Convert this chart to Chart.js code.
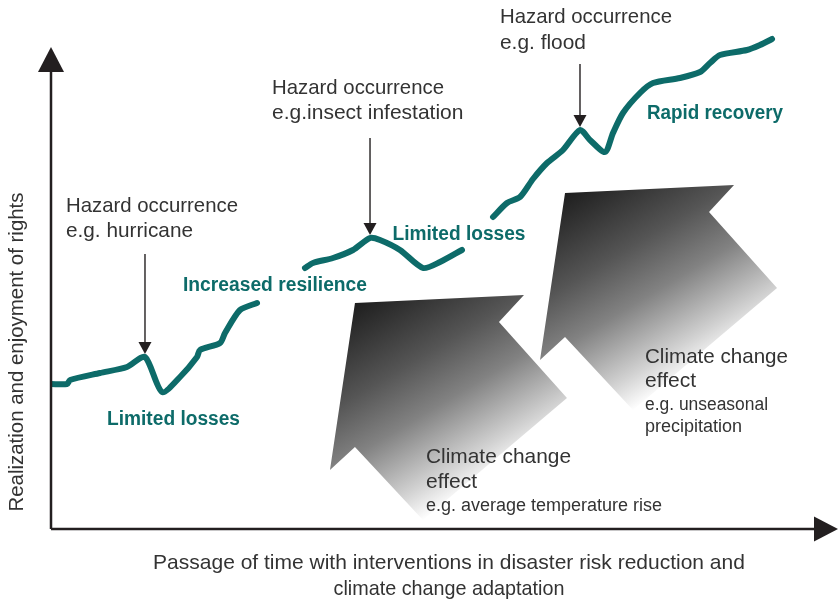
<!DOCTYPE html>
<html>
<head>
<meta charset="utf-8">
<script src="https://cdn.jsdelivr.net/npm/chart.js@4"></script>
<style>
html,body{margin:0;padding:0;background:#fff;}
#c{display:block;}
</style>
</head>
<body>
<canvas id="c" width="839" height="602"></canvas>
<script>
// Time (0-100) and level (0-100) of the "realization of rights" curve; null = gap behind a label
const timeValues = [0, 2.05, 2.44, 6.28, 9.74, 12.05, 14.23, 16.54, 18.72, 19.1, 21.67, 22.31, 24.23, 26.41,
  29, 32.56, 33.59, 36.15, 38.72, 40.9, 42.18, 44.74, 47.69, 49.87, 52.69,
  55, 56.67, 58.46, 60.13, 61.79, 63.59, 65.64, 67.82, 69.1, 71.03, 72.05, 73.33, 75.51, 77.18, 80.64, 83.21, 84.49, 85.77, 89.23, 90.9, 92.44];
const levelValues = [28.8, 28.8, 29.6, 31, 32.2, 34.2, 27.2, 30.2, 34.2, 35.6, 37, 39, 43.6, 45,
  null, 52, 53, 54, 55.6, 58, 57.6, 55.6, 52, 53.2, 55.6,
  null, 62.2, 65, 66.2, 69.8, 73, 75.6, 79.6, 77.6, 75.2, 79, 83, 87, 89, 90, 91.2, 93, 94.6, 95.6, 96.6, 97.8];

// Hazard events: index of the curve point hit, and label lines
const hazardIndex = [5, 19, 32];
const hazardTitle = ["Hazard occurrence", "Hazard occurrence", "Hazard occurrence"];
const hazardExample = ["e.g. hurricane", "e.g.insect infestation", "e.g. flood"];

// Outcome labels on the curve
const outcomeLabels = ["Limited losses", "Increased resilience", "Limited losses", "Rapid recovery"];

// Climate change effect labels
const climateTitle = ["Climate change", "Climate change"];
const climateExample = [["e.g. average temperature rise"], ["e.g. unseasonal", "precipitation"]];

const xAxisTitle = ["Passage of time with interventions in disaster risk reduction and", "climate change adaptation"];
const yAxisTitle = "Realization and enjoyment of rights";

// ---- layout / style (not data) ----
const TEAL = '#0d6b69';
const INK = '#231f20';
const TXT = '#333333';
const FONT = '"Liberation Sans", Arial, sans-serif';

const hazardLayout = [
  {len: 100, dx: -79, y1: 206, y2: 231, w1: 172, w2: 127},
  {len: 97, dx: -98, y1: 88, y2: 113, w1: 172, w2: 193},
  {len: 63, dx: -80, y1: 17, y2: 43, w1: 172, w2: 86}
];
const outcomeLayout = [
  {x: 173.5, y: 419, w: 133}, {x: 275, y: 285, w: 184}, {x: 459, y: 234, w: 133}, {x: 715, y: 113, w: 136}
];
const climateLayout = [
  {x: 426, y: [457, 482, 506], w: 145, small: [237]},
  {x: 645, y: [357, 381, 405, 427], w: 143, small: [123, 101]}
];
// block arrow anchors (data units) + shape offsets (px)
const blockArrowAnchors = [{x: 38.97, y: 45}, {x: 65.9, y: 67}];
const blockShape = [[0,0],[169,-8],[144,19],[212,95],[68,217],[0,144],[-25,167]];

function txt(ctx, s, x, y, opt) {
  ctx.save();
  ctx.font = opt.font;
  ctx.fillStyle = opt.color;
  ctx.textAlign = opt.align || 'left';
  ctx.textBaseline = 'middle';
  const m = ctx.measureText(s).width;
  if (opt.w && m > opt.w) ctx.fillText(s, x, y, opt.w); else ctx.fillText(s, x, y);
  ctx.restore();
}

const decor = {
  id: 'decor',
  beforeDatasetsDraw(chart) {
    const {ctx, scales: {x, y}} = chart;
    // gradient block arrows
    blockArrowAnchors.forEach(a => {
      const px = x.getPixelForValue(a.x), py = y.getPixelForValue(a.y);
      const g = ctx.createLinearGradient(px, py, px + 114, py + 190);
      g.addColorStop(0, '#1e1e1e');
      g.addColorStop(0.36, '#555555');
      g.addColorStop(0.59, '#828282');
      g.addColorStop(0.86, '#d2d2d2');
      g.addColorStop(1, '#ffffff');
      ctx.save();
      ctx.beginPath();
      blockShape.forEach((p, i) => i ? ctx.lineTo(px + p[0], py + p[1]) : ctx.moveTo(px + p[0], py + p[1]));
      ctx.closePath();
      ctx.fillStyle = g;
      ctx.fill();
      ctx.restore();
    });
  },
  afterDatasetsDraw(chart) {
    const {ctx, chartArea: ca, scales: {x, y}} = chart;
    // axes
    ctx.save();
    ctx.strokeStyle = INK; ctx.fillStyle = INK; ctx.lineWidth = 2.5;
    const ox = ca.left, oy = ca.bottom + 1;
    ctx.beginPath(); ctx.moveTo(ox, oy); ctx.lineTo(ox, 68); ctx.stroke();
    ctx.beginPath(); ctx.moveTo(ox, oy); ctx.lineTo(818, oy); ctx.stroke();
    ctx.beginPath(); ctx.moveTo(ox, 47); ctx.lineTo(ox - 13, 72); ctx.lineTo(ox + 13, 72); ctx.closePath(); ctx.fill();
    ctx.beginPath(); ctx.moveTo(838, oy); ctx.lineTo(814, oy - 12.5); ctx.lineTo(814, oy + 12.5); ctx.closePath(); ctx.fill();
    ctx.restore();

    // hazard arrows + labels
    hazardIndex.forEach((idx, i) => {
      const L = hazardLayout[i];
      const px = x.getPixelForValue(timeValues[idx]);
      const tip = y.getPixelForValue(levelValues[idx]) - 3;
      ctx.save();
      ctx.strokeStyle = INK; ctx.fillStyle = INK; ctx.lineWidth = 1.4;
      ctx.beginPath(); ctx.moveTo(px, tip - L.len); ctx.lineTo(px, tip - 10); ctx.stroke();
      ctx.beginPath(); ctx.moveTo(px, tip); ctx.lineTo(px - 6.5, tip - 12); ctx.lineTo(px + 6.5, tip - 12); ctx.closePath(); ctx.fill();
      ctx.restore();
      txt(ctx, hazardTitle[i], px + L.dx, L.y1, {font: '21px ' + FONT, color: TXT, w: L.w1});
      txt(ctx, hazardExample[i], px + L.dx, L.y2, {font: '21px ' + FONT, color: TXT, w: L.w2});
    });

    // outcome labels
    outcomeLabels.forEach((s, i) => {
      const L = outcomeLayout[i];
      txt(ctx, s, L.x, L.y, {font: 'bold 20px ' + FONT, color: TEAL, align: 'center', w: L.w});
    });

    // climate labels
    climateTitle.forEach((s, i) => {
      const L = climateLayout[i];
      txt(ctx, s, L.x, L.y[0], {font: '21px ' + FONT, color: TXT, w: L.w});
      txt(ctx, 'effect', L.x, L.y[1], {font: '21px ' + FONT, color: TXT});
      climateExample[i].forEach((e, k) => {
        txt(ctx, e, L.x, L.y[2 + k], {font: '18px ' + FONT, color: TXT, w: L.small[k]});
      });
    });

    // axis titles
    txt(ctx, xAxisTitle[0], 449, 563, {font: '21px ' + FONT, color: TXT, align: 'center', w: 594});
    txt(ctx, xAxisTitle[1], 449, 589, {font: '21px ' + FONT, color: TXT, align: 'center', w: 231});
    ctx.save();
    ctx.translate(17, 352);
    ctx.rotate(-Math.PI / 2);
    txt(ctx, yAxisTitle, 0, 0, {font: '21px ' + FONT, color: TXT, align: 'center', w: 319});
    ctx.restore();
  }
};

new Chart(document.getElementById('c'), {
  type: 'line',
  data: {
    datasets: [{
      data: timeValues.map((t, i) => ({x: t, y: levelValues[i]})),
      borderColor: TEAL,
      borderWidth: 6,
      borderCapStyle: 'round',
      borderJoinStyle: 'round',
      pointRadius: 0,
      tension: 0.25,
      spanGaps: false,
      fill: false
    }]
  },
  options: {
    responsive: false,
    animation: false,
    layout: {padding: {left: 51, right: 8, top: 28, bottom: 74}},
    scales: {
      x: {type: 'linear', min: 0, max: 100, display: false},
      y: {type: 'linear', min: 0, max: 100, display: false}
    },
    plugins: {legend: {display: false}, tooltip: {enabled: false}}
  },
  plugins: [decor]
});
</script>
</body>
</html>
